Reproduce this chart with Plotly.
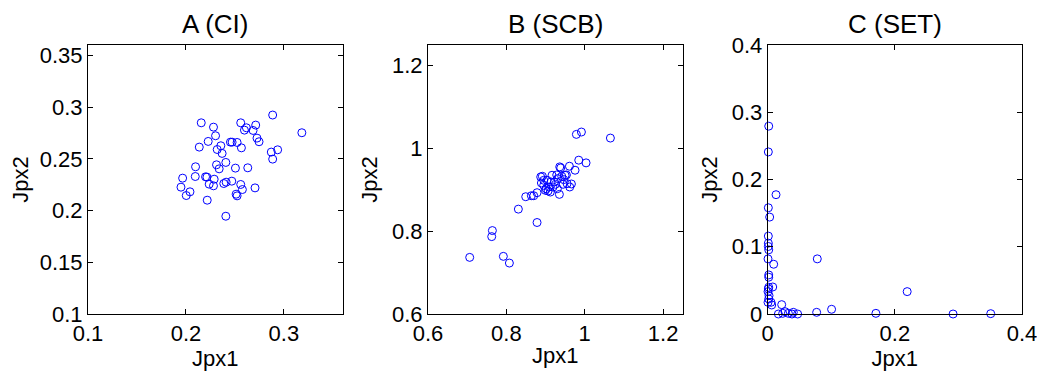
import plotly.graph_objects as go

# ---- data ----
titles = ["A (CI)", "B (SCB)", "C (SET)"]

a_x = [0.2156, 0.2281, 0.2302, 0.2227, 0.2136, 0.2319, 0.2356, 0.2369, 0.2454, 0.2471,
       0.2522, 0.2566, 0.2559, 0.2597, 0.2617, 0.2685, 0.2712, 0.2725, 0.2746, 0.2885,
       0.2871, 0.2936, 0.2885, 0.3183, 0.2098, 0.2095, 0.1966, 0.1949, 0.2003, 0.2041,
       0.2200, 0.2214, 0.2237, 0.2281, 0.2288, 0.2217, 0.2312, 0.2339, 0.2407, 0.2386,
       0.2410, 0.2468, 0.2505, 0.2631, 0.2512, 0.2522, 0.2559, 0.2576, 0.2705, 0.2407]
a_y = [0.2848, 0.2806, 0.2723, 0.2668, 0.2613, 0.2590, 0.2626, 0.2552, 0.2661, 0.2661,
       0.2658, 0.2606, 0.2848, 0.2777, 0.2800, 0.2774, 0.2826, 0.2700, 0.2665, 0.2923,
       0.2565, 0.2587, 0.2497, 0.2752, 0.2423, 0.2329, 0.2313, 0.2226, 0.2145, 0.2181,
       0.2326, 0.2323, 0.2255, 0.2239, 0.2303, 0.2100, 0.2442, 0.2403, 0.2465, 0.2261,
       0.2274, 0.2284, 0.2410, 0.2413, 0.2158, 0.2142, 0.2252, 0.2203, 0.2219, 0.1945]

b_x = [0.7064, 0.7643, 0.7626, 0.7923, 0.8077, 0.8306, 0.8783, 0.8494, 0.8638, 0.8698,
       0.8783, 0.8877, 0.8919, 0.8894, 0.8953, 0.9013, 0.9064, 0.9089, 0.9123, 0.9166,
       0.9226, 0.9285, 0.9302, 0.9353, 0.9387, 0.9413, 0.9447, 0.9498, 0.9532, 0.9609,
       0.9617, 0.9660, 0.9753, 0.9847, 1.0034, 0.9787, 0.9915, 1.0655, 0.9038, 0.9191,
       0.9464, 0.9549, 0.8996, 0.9251, 0.9311, 0.9140, 0.8953, 0.9362]
b_y = [0.7368, 0.8016, 0.7870, 0.7393, 0.7231, 0.8534, 0.8211, 0.8834, 0.8858, 0.8858,
       0.8931, 0.9312, 0.9328, 0.9166, 0.9109, 0.9028, 0.8972, 0.9069, 0.8947, 0.9352,
       0.9190, 0.9360, 0.9028, 0.8891, 0.9530, 0.9328, 0.9134, 0.9352, 0.9360, 0.9571,
       0.9069, 0.9142, 0.9474, 0.9717, 0.9652, 1.0340, 1.0397, 1.0251, 0.9231, 0.9069,
       0.9247, 0.9150, 0.8988, 0.9134, 0.9271, 0.9190, 0.9231, 0.9555]

c_x = [0.0016, 0.0010, 0.0131, 0.0010, 0.0031, 0.0010, 0.0010, 0.0010, 0.0016, 0.0005,
       0.0094, 0.0780, 0.0016, 0.0016, 0.0079, 0.0005, 0.0021, 0.0016, 0.0005, 0.0052,
       0.0063, 0.0220, 0.0168, 0.0236, 0.0272, 0.0325, 0.0382, 0.0403, 0.0471, 0.0770,
       0.1005, 0.1702, 0.2194, 0.2916, 0.3508, 0.0016, 0.0010]
c_y = [0.2793, 0.2410, 0.1774, 0.1580, 0.1441, 0.1158, 0.1053, 0.1004, 0.0954, 0.0820,
       0.0740, 0.0820, 0.0581, 0.0398, 0.0402, 0.0333, 0.0273, 0.0224, 0.0174, 0.0174,
       0.0134, 0.0139, 0.0000, 0.0010, 0.0035, 0.0010, 0.0000, 0.0025, 0.0000, 0.0025,
       0.0070, 0.0010, 0.0333, 0.0000, 0.0005, 0.0547, 0.0373]

a_xticks = [0.1, 0.2, 0.3]
a_yticks = [0.1, 0.15, 0.2, 0.25, 0.3, 0.35]
b_ticks = [0.6, 0.8, 1.0, 1.2]
b_ticktext = ["0.6", "0.8", "1", "1.2"]
c_xticks = [0, 0.2, 0.4]
c_xticktext = ["0", "0.2", "0.4"]
c_yticks = [0, 0.1, 0.2, 0.3, 0.4]
c_yticktext = ["0", "0.1", "0.2", "0.3", "0.4"]

# ---- layout geometry ----
# the page body has an 8px margin, so the figure is sized/offset to compensate
OFF = 8
W, H = 1045 - OFF, 374 - OFF
xdoms = [(88 - OFF, 342.7 - OFF), (428 - OFF, 682.7 - OFF), (767.7 - OFF, 1022 - OFF)]
ytop, ybot = 45 - OFF, 314 - OFF

fig = go.Figure()
series = [(a_x, a_y), (b_x, b_y), (c_x, c_y)]
for i, (xs, ys) in enumerate(series):
    fig.add_trace(go.Scatter(
        x=xs, y=ys, mode="markers", xaxis=f"x{i+1}", yaxis=f"y{i+1}",
        marker=dict(symbol="circle-open", size=8, color="#0000FF",
                    line=dict(width=1, color="#0000FF")),
        cliponaxis=False, showlegend=False))

FAM = "Liberation Sans, Arial, sans-serif"
font = dict(family=FAM, size=22, color="black")
axis_common = dict(showline=True, linecolor="black", linewidth=1, mirror="allticks",
                   ticks="inside", ticklen=5, tickcolor="black", showgrid=False,
                   zeroline=False, tickfont=font, automargin=False)

ranges = [
    ([0.1, 0.36], [0.1, 0.36], a_xticks, [str(v) for v in a_xticks], a_yticks, [str(v) for v in a_yticks]),
    ([0.6, 1.25], [0.6, 1.25], b_ticks, b_ticktext, b_ticks, b_ticktext),
    ([0, 0.4], [0, 0.4], c_xticks, c_xticktext, c_yticks, c_yticktext),
]

layout = dict(width=W, height=H, margin=dict(l=0, r=0, t=0, b=0, autoexpand=False),
              plot_bgcolor="white", paper_bgcolor="white", font=font)
for i, (xr, yr, xt, xtt, yt, ytt) in enumerate(ranges):
    n = "" if i == 0 else str(i + 1)
    x0, x1 = xdoms[i]
    layout[f"xaxis{n}"] = dict(axis_common, domain=[x0 / W, x1 / W], range=xr,
                               tickvals=xt, ticktext=xtt, anchor=f"y{i+1}",
                               title=dict(text="Jpx1", font=font, standoff=2))
    layout[f"yaxis{n}"] = dict(axis_common, domain=[1 - ybot / H, 1 - ytop / H], range=yr,
                               tickvals=yt, ticktext=ytt, anchor=f"x{i+1}",
                               title=dict(text="Jpx2", font=font, standoff=8))
fig.update_layout(**layout)

for i, t in enumerate(titles):
    x0, x1 = xdoms[i]
    fig.add_annotation(text=t, x=(x0 + x1) / 2 / W, y=1, xref="paper", yref="paper",
                       showarrow=False, xanchor="center", yanchor="top", borderpad=0,
                       font=dict(family=FAM, size=26, color="black"))

fig.write_html("out.html")
